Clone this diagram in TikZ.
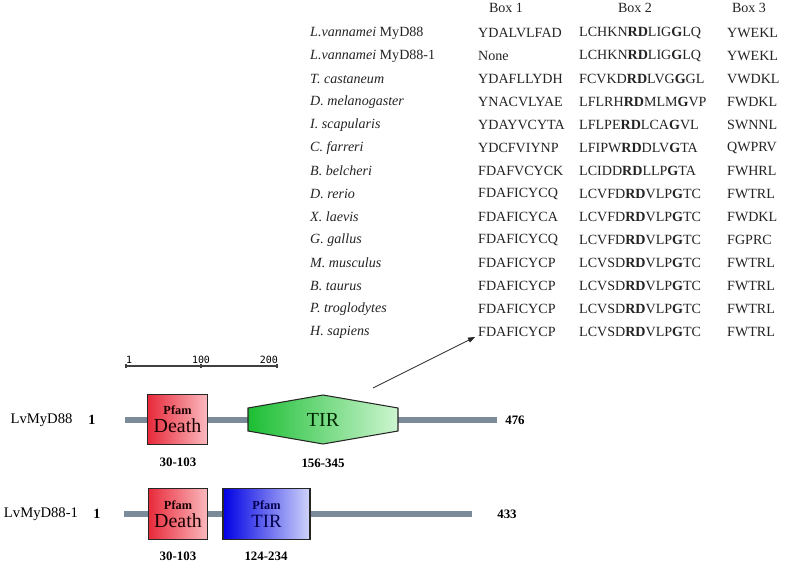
\documentclass[tikz,border=0pt]{standalone}
\usepackage{fontspec}
\setmainfont{Liberation Serif}
\newfontfamily\escalafont{DejaVu Sans Mono}
\usetikzlibrary{arrows.meta,positioning,calc}
\definecolor{cinzacadeia}{RGB}{124,139,154}
\definecolor{vermelhoA}{RGB}{232,42,58}
\definecolor{vermelhoB}{RGB}{250,185,190}
\definecolor{verdeA}{RGB}{28,190,52}
\definecolor{verdeB}{RGB}{205,245,208}
\definecolor{azulA}{RGB}{0,0,228}
\definecolor{azulB}{RGB}{208,212,250}
\definecolor{textoescuro}{RGB}{35,35,35}

\begin{document}
\begin{tikzpicture}[
    x=0.03cm, y=-0.03cm,
    especie/.style={
        anchor=west,
        inner sep=0pt,
        text=textoescuro,
        font=\fontsize{12}{14}\selectfont\itshape
    },
    seq/.style={
        anchor=west,
        inner sep=0pt,
        text=textoescuro,
        font=\fontsize{12}{14}\selectfont
    },
    cabecalho/.style={
        inner sep=0pt,
        text=textoescuro,
        font=\fontsize{12}{14}\selectfont
    },
    dominio/.style={
        rectangle,
        draw=black!85,
        line width=0.9pt,
        align=center,
        inner sep=0pt,
        minimum height=1.52cm
    },
    death/.style={
        dominio,
        minimum width=1.78cm,
        left color=vermelhoA,
        right color=vermelhoB,
        text=black!90!red
    },
    tirbox/.style={
        dominio,
        minimum width=2.61cm,
        left color=azulA,
        right color=azulB,
        text=black!70!blue
    },
    proteina/.style={inner sep=0pt, font=\fontsize{12.5}{14}\selectfont},
    numero/.style={inner sep=0pt, font=\fontsize{12}{14}\selectfont\bfseries},
    faixa/.style={inner sep=0pt, font=\fontsize{11}{13}\selectfont\bfseries},
    escala/.style={inner sep=0pt, font=\escalafont\fontsize{8.5}{10}\selectfont},
    cadeia/.style={line width=4.3pt, cinzacadeia},
    regua/.style={line width=1.1pt, black!75},
    seta/.style={-{Triangle[length=6pt,width=4.5pt]}, line width=0.6pt, black!85}
]
\useasboundingbox (0,0) rectangle (786,567);

% TABELA: BOXES CONSERVADOS
\node[cabecalho] (box1) at (506,8) {Box 1};
\node[cabecalho] (box2) at (635,8) {Box 2};
\node[cabecalho] (box3) at (749,8) {Box 3};

\foreach \sp/\bi/\bii/\biii [count=\i] in {
    {\textit{L.vannamei} \upshape MyD88}/YDALVLFAD/{LCHKN\textbf{RD}LIG\textbf{G}LQ}/YWEKL,
    {\textit{L.vannamei} \upshape MyD88-1}/None/{LCHKN\textbf{RD}LIG\textbf{G}LQ}/YWEKL,
    {T. castaneum}/YDAFLLYDH/{FCVKD\textbf{RD}LVG\textbf{G}GL}/VWDKL,
    {D. melanogaster}/YNACVLYAE/{LFLRH\textbf{RD}MLM\textbf{G}VP}/FWDKL,
    {I. scapularis}/YDAYVCYTA/{LFLPE\textbf{RD}LCA\textbf{G}VL}/SWNNL,
    {C. farreri}/YDCFVIYNP/{LFIPW\textbf{RD}DLV\textbf{G}TA}/QWPRV,
    {B. belcheri}/FDAFVCYCK/{LCIDD\textbf{RD}LLP\textbf{G}TA}/FWHRL,
    {D. rerio}/FDAFICYCQ/{LCVFD\textbf{RD}VLP\textbf{G}TC}/FWTRL,
    {X. laevis}/FDAFICYCA/{LCVFD\textbf{RD}VLP\textbf{G}TC}/FWDKL,
    {G. gallus}/FDAFICYCQ/{LCVFD\textbf{RD}VLP\textbf{G}TC}/FGPRC,
    {M. musculus}/FDAFICYCP/{LCVSD\textbf{RD}VLP\textbf{G}TC}/FWTRL,
    {B. taurus}/FDAFICYCP/{LCVSD\textbf{RD}VLP\textbf{G}TC}/FWTRL,
    {P. troglodytes}/FDAFICYCP/{LCVSD\textbf{RD}VLP\textbf{G}TC}/FWTRL,
    {H. sapiens}/FDAFICYCP/{LCVSD\textbf{RD}VLP\textbf{G}TC}/FWTRL}{
    \node[especie] (sp\i) at (310,10+23*\i) {\sp};
    \node[seq] (ba\i) at (478,10+23*\i) {\bi};
    \node[seq] (bb\i) at (579,10+23*\i) {\bii};
    \node[seq] (bc\i) at (727,10+23*\i) {\biii};
}

% ESCALA
\coordinate (e1) at (126,366);
\coordinate (e100) at (201,366);
\coordinate (e200) at (277,366);
\draw[regua] (e1) -- (e200);
\foreach \p in {e1,e100,e200}
    \draw[regua] ([yshift=1.3pt]\p) -- ([yshift=-1.3pt]\p);
\node[escala, anchor=south west] (l1) at ([yshift=1.6pt]e1) {1};
\node[escala, anchor=south] (l100) at ([yshift=1.6pt]e100) {100};
\node[escala, anchor=south east] (l200) at ([xshift=1pt,yshift=1.6pt]e200) {200};

% PROTEINA 1: LvMyD88
\coordinate (ini1) at (125,420);
\coordinate (fim1) at (497,420);
\draw[cadeia] (ini1) -- (fim1);
\node[proteina] (nome1) at (41.5,420) {LvMyD88};
\node[numero] (n1a) at (92,420) {1};
\node[numero, font=\fontsize{11}{13}\selectfont\bfseries] (n1b) at (515,420) {476};
\node[death] (death1) at (177.5,419.5)
    {{\fontsize{10.5}{11}\selectfont\bfseries Pfam}\\[3pt]{\fontsize{17}{17}\selectfont Death}};
\shadedraw[draw=black!85, line width=0.9pt, left color=verdeA, right color=verdeB]
    (248,408) -- (323,395) -- (398,408) -- (398,431) -- (323,444) -- (248,431) -- cycle;
\node[inner sep=0pt, font=\fontsize{17}{17}\selectfont, text=black!85!green] (tir1) at (323,420) {TIR};
\node[faixa] (f1a) at (178,462) {30-103};
\node[faixa] (f1b) at (323,463) {156-345};

% SETA PARA A TABELA
\coordinate (origem) at (373,388);
\coordinate (destino) at (475,337);
\draw[seta] (origem) -- (destino);

% PROTEINA 2: LvMyD88-1
\coordinate (ini2) at (124,514);
\coordinate (fim2) at (472,514);
\draw[cadeia] (ini2) -- (fim2);
\node[proteina] (nome2) at (41,514) {LvMyD88-1};
\node[numero] (n2a) at (97,514) {1};
\node[numero, font=\fontsize{11}{13}\selectfont\bfseries] (n2b) at (507,514) {433};
\node[death] (death2) at (178,514)
    {{\fontsize{10.5}{11}\selectfont\bfseries Pfam}\\[3pt]{\fontsize{17}{17}\selectfont Death}};
\node[tirbox] (tir2) at (266.5,514)
    {{\fontsize{10.5}{11}\selectfont\bfseries Pfam}\\[3pt]{\fontsize{16}{16}\selectfont TIR}};
\node[faixa] (f2a) at (178,556) {30-103};
\node[faixa] (f2b) at (266,556) {124-234};

\end{tikzpicture}
\end{document}
